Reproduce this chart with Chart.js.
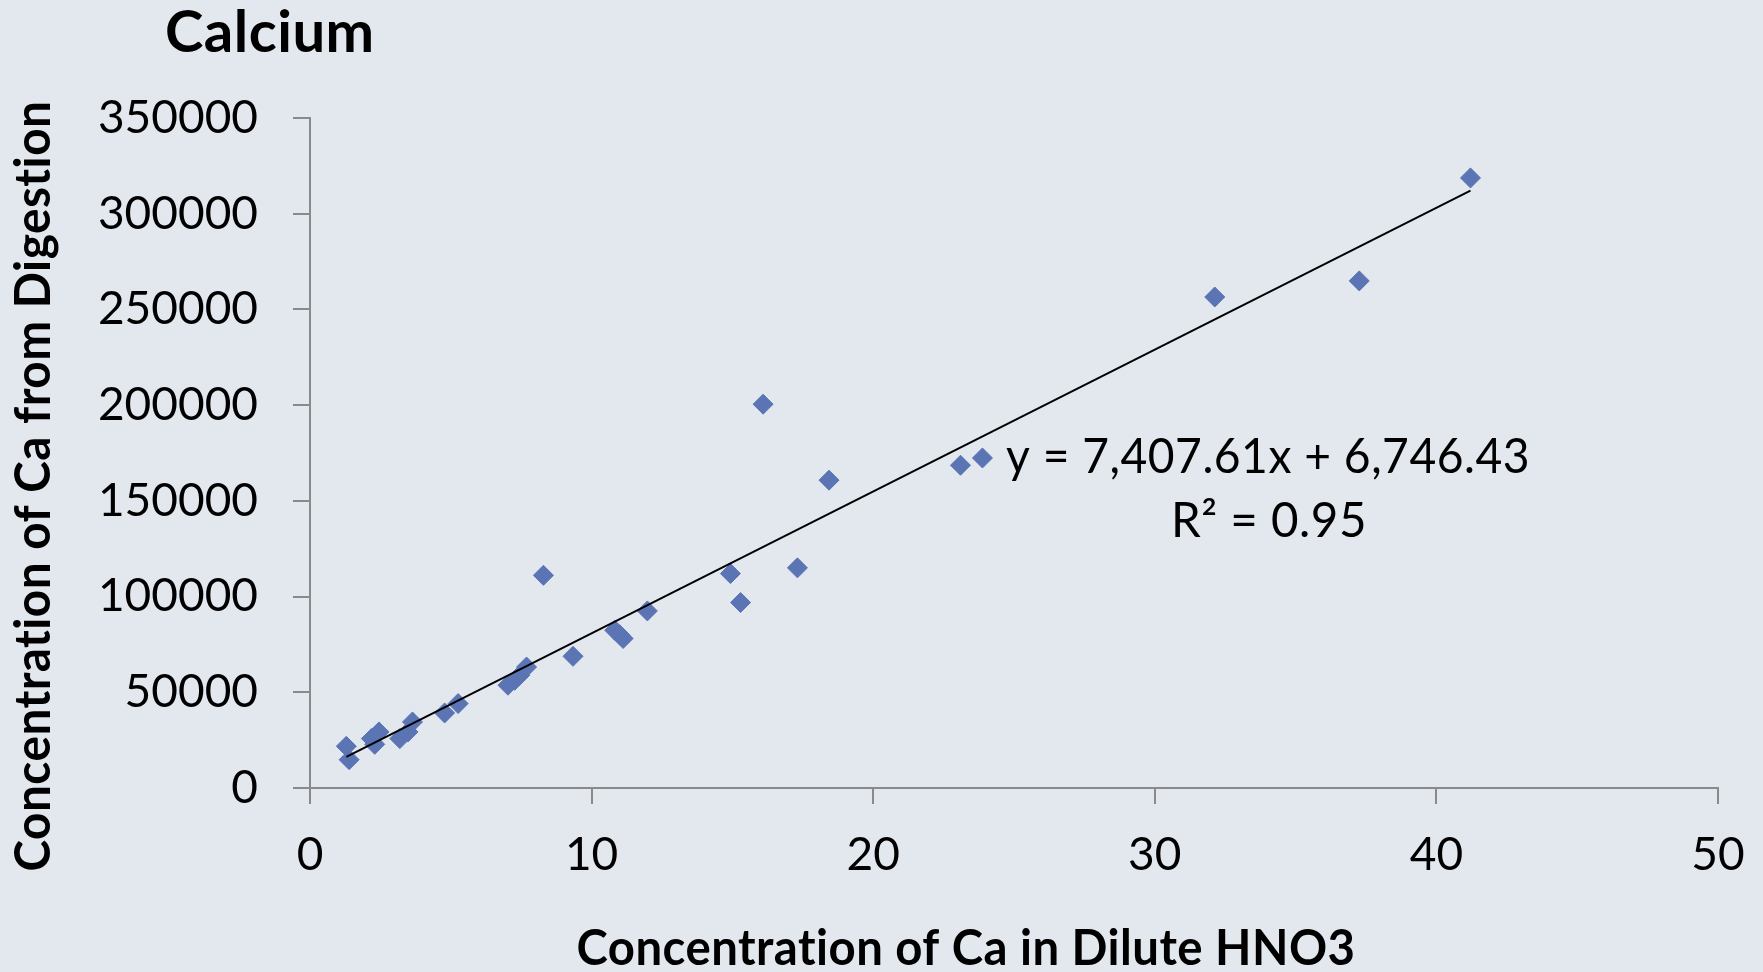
<!DOCTYPE html>
<html>
<head>
<meta charset="utf-8">
<script src="https://cdn.jsdelivr.net/npm/chart.js@4"></script>
<style>
  html, body { margin: 0; padding: 0; background: #e3e8ef; }
  #khung { width: 1763px; height: 972px; }
</style>
</head>
<body>
<div id="khung"><canvas id="chart-ca"></canvas></div>
<script>
// Ca đo trong HNO3 loãng (trục x) và Ca từ phá mẫu (trục y)
const caHNO3 = [1.29, 1.39, 2.18, 2.30, 2.45, 3.19, 3.48, 3.64, 4.78, 5.26,
                7.03, 7.27, 7.45, 7.69, 8.29, 9.34, 10.82, 11.0, 11.12, 11.98,
                14.93, 15.29, 16.09, 17.31, 18.43, 23.10, 23.88, 32.13, 37.26, 41.21];
const caPhaMau = [21800, 14800, 25800, 22800, 29300, 25800, 29300, 34500, 39200, 44100,
                  53700, 56300, 58900, 63200, 111100, 68800, 82400, 80000, 78100, 92500,
                  112000, 96900, 200500, 115000, 160800, 168600, 172400, 256500, 264900, 318700];

// đường xu hướng tuyến tính
const heSoGoc = 7407.61;
const heSoTuDo = 6746.43;
const r2 = 0.95;

const tickX = [0, 10, 20, 30, 40, 50];
const tickY = [0, 50000, 100000, 150000, 200000, 250000, 300000, 350000];

const mauNen = '#e3e8ef';
const mauDiem = '#5b74b4';
const mauTruc = '#8a8a8a';
const phong = 'Lato';

const diem = caHNO3.map((x, i) => ({ x: x, y: caPhaMau[i] }));
const xMin = Math.min(...caHNO3);
const xMax = Math.max(...caHNO3);
const duongXH = [xMin, xMax].map(x => ({ x: x, y: heSoGoc * x + heSoTuDo }));

const soDep = v => v.toLocaleString('en-US', { minimumFractionDigits: 2, maximumFractionDigits: 2 });

// nền, tiêu đề, tên trục và phương trình
const veChu = {
    id: 'veChu',
    beforeDraw(chart) {
        const c = chart.ctx;
        c.save();
        c.fillStyle = mauNen;
        c.fillRect(0, 0, chart.width, chart.height);
        c.restore();
    },
    afterDraw(chart) {
        const c = chart.ctx;
        c.save();
        c.fillStyle = '#000';
        c.textBaseline = 'alphabetic';
        c.letterSpacing = '0.5px'; // tắt chữ nối "ti" của Lato

        c.font = 'bold 58px ' + phong;
        c.textAlign = 'left';
        c.fillText('Calcium', 165, 52);

        c.font = 'bold 50px ' + phong;
        c.textAlign = 'center';
        c.fillText('Concentration of Ca in Dilute HNO3', 966, 965, 779);

        c.save();
        c.translate(50, 486);
        c.rotate(-Math.PI / 2);
        c.fillText('Concentration of Ca from Digestion', 0, 0, 771);
        c.restore();

        c.font = '47.5px ' + phong;
        c.fillText('y = ' + soDep(heSoGoc) + 'x + ' + soDep(heSoTuDo), 1268, 473, 524);
        c.fillText('R\u00b2 = ' + r2.toFixed(2), 1269, 537);
        c.restore();
    }
};

const ctx = document.getElementById('chart-ca');
new Chart(ctx, {
    data: {
        datasets: [
            {
                type: 'line',
                label: 'Linear',
                data: duongXH,
                borderColor: '#000',
                borderWidth: 2,
                pointRadius: 0,
                fill: false,
                order: 0
            },
            {
                type: 'scatter',
                label: 'Ca',
                data: diem,
                pointStyle: 'rectRot',
                pointRadius: 10,
                backgroundColor: mauDiem,
                borderColor: mauDiem,
                borderWidth: 1,
                order: 1
            }
        ]
    },
    options: {
        responsive: true,
        maintainAspectRatio: false,
        animation: false,
        layout: { padding: { top: 118, right: 45, bottom: 0, left: 0 } },
        font: { family: phong },
        scales: {
            x: {
                type: 'linear',
                min: 0,
                max: 50,
                afterFit: s => {
                    s.height = 184;
                    s.paddingLeft = 0;
                    s.paddingRight = 0;
                },
                afterBuildTicks: s => { s.ticks = tickX.map(v => ({ value: v })); },
                border: { color: mauTruc, width: 2 },
                grid: { drawOnChartArea: false, tickLength: 16, color: mauTruc, lineWidth: 2 },
                ticks: {
                    color: '#000',
                    padding: 24,
                    font: { family: phong, size: 46 },
                    callback: v => String(v)
                }
            },
            y: {
                type: 'linear',
                min: 0,
                max: 350000,
                afterFit: s => { s.width = 310; },
                afterBuildTicks: s => { s.ticks = tickY.map(v => ({ value: v })); },
                border: { color: mauTruc, width: 2 },
                grid: { drawOnChartArea: false, tickLength: 17, color: mauTruc, lineWidth: 2 },
                ticks: {
                    color: '#000',
                    padding: 35,
                    font: { family: phong, size: 46 },
                    callback: v => String(v)
                }
            }
        },
        plugins: {
            legend: { display: false },
            tooltip: { enabled: false }
        }
    },
    plugins: [veChu]
});
</script>
</body>
</html>
